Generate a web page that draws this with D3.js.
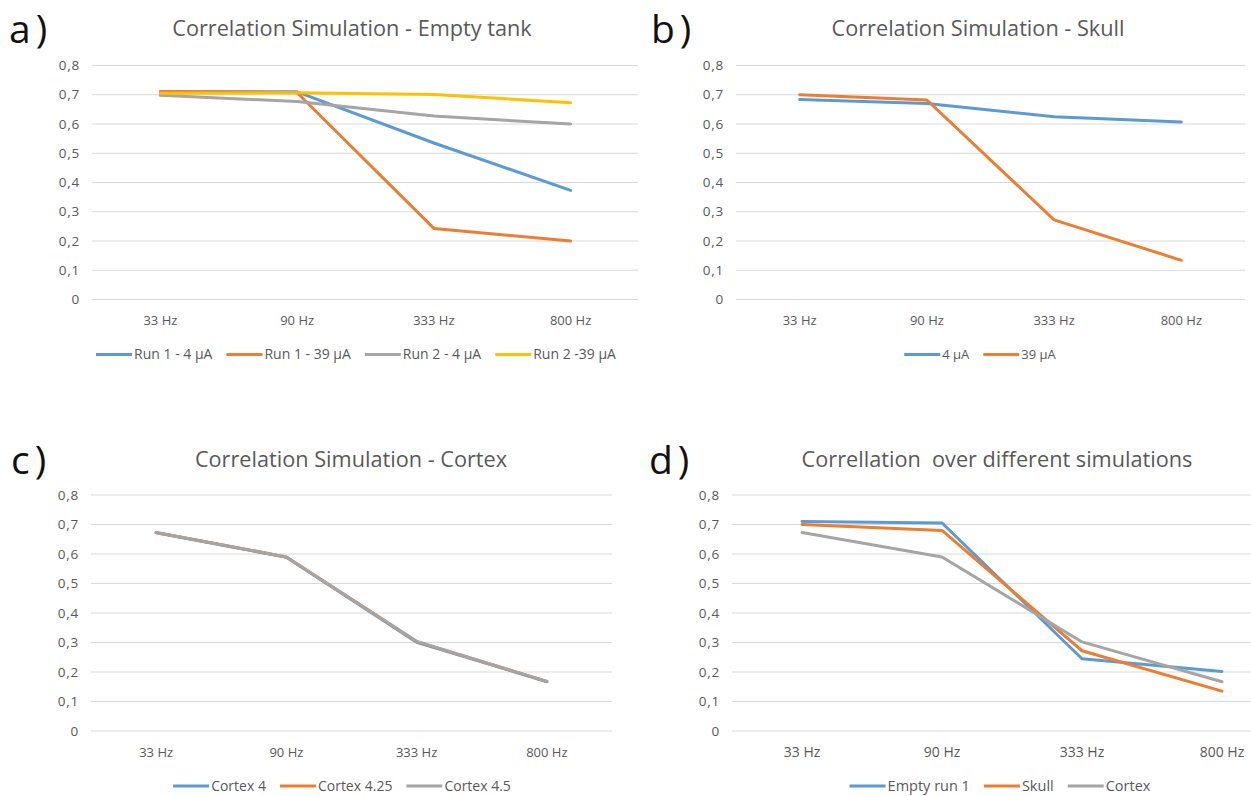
<!DOCTYPE html>
<html>
<head>
<meta charset="utf-8">
<script src="https://cdn.jsdelivr.net/npm/d3@7"></script>
<style>
  body { margin: 0; background: #fff; }
  text { font-family: "Open Sans", sans-serif; }
</style>
</head>
<body>
<div id="chart"></div>
<script>
// categories / ticks
var categories = ["33 Hz", "90 Hz", "333 Hz", "800 Hz"];
var yTicks = [0, 0.1, 0.2, 0.3, 0.4, 0.5, 0.6, 0.7, 0.8];
var yTickLabels = ["0", "0,1", "0,2", "0,3", "0,4", "0,5", "0,6", "0,7", "0,8"];

// a) empty tank
var run1_4uA  = [0.710, 0.710, 0.535, 0.373];
var run1_39uA = [0.711, 0.707, 0.243, 0.200];
var run2_4uA  = [0.698, 0.677, 0.627, 0.600];
var run2_39uA = [0.705, 0.707, 0.701, 0.673];

// b) skull
var skull_4uA  = [0.684, 0.670, 0.625, 0.607];
var skull_39uA = [0.700, 0.682, 0.272, 0.134];

// c) cortex
var cortex_4   = [0.672, 0.589, 0.301, 0.167];
var cortex_425 = [0.673, 0.590, 0.303, 0.168];
var cortex_45  = [0.673, 0.590, 0.304, 0.168];

// d) over simulations
var emptyRun1 = [0.710, 0.705, 0.245, 0.202];
var skullSim  = [0.700, 0.680, 0.272, 0.135];
var cortexSim = [0.673, 0.590, 0.302, 0.167];

var BLUE = "#5b9bd5", ORANGE = "#ed7d31", GRAY = "#a5a5a5", YELLOW = "#ffc000";

var svg = d3.select("#chart").append("svg")
    .attr("width", 1251)
    .attr("height", 796);

function panel(p) {
  var g = svg.append("g");

  var x = d3.scaleBand().domain(categories).range(p.xr).padding(0);
  var y = d3.scaleLinear().domain([0, 0.8]).range(p.yr);
  var cx = function(d){ return x(d) + x.bandwidth()/2; };

  /* panel letter */
  g.append("text")
    .attr("x", p.letter[0]).attr("y", p.letter[1])
    .style("font-size", "39px")
    .style("letter-spacing", "5px")
    .attr("fill", "#111")
    .text(p.name);

  /* title */
  g.append("text")
    .attr("x", p.title[0]).attr("y", p.title[1])
    .attr("text-anchor", "middle")
    .style("font-size", "21.7px")
    .style("white-space", "pre")
    .attr("fill", "#595959")
    .text(p.titleText);

  /* gridlines */
  g.selectAll(".grid")
    .data(yTicks)
    .enter().append("line")
    .attr("x1", p.xr[0]).attr("x2", p.gridEnd)
    .attr("y1", y).attr("y2", y)
    .style("stroke", "#d9d9d9")
    .style("stroke-width", 1);

  /* y labels */
  g.selectAll(".ylabel")
    .data(yTicks)
    .enter().append("text")
    .attr("x", p.xr[0] - 12)
    .attr("y", y)
    .attr("dy", "0.35em")
    .attr("text-anchor", "end")
    .style("font-size", "13.5px")
    .style("letter-spacing", "0.8px")
    .attr("fill", "#595959")
    .text(function(d, i){ return yTickLabels[i]; });

  /* x labels */
  g.selectAll(".xlabel")
    .data(categories)
    .enter().append("text")
    .attr("x", cx)
    .attr("y", p.yr[0] + 21)
    .attr("dy", "0.35em")
    .attr("text-anchor", "middle")
    .style("font-size", p.fs + "px")
    .attr("fill", "#595959")
    .text(function(d){ return d; });

  /* series */
  var line = d3.line()
    .x(function(d, i){ return cx(categories[i]); })
    .y(function(d){ return y(d); });

  p.series.forEach(function(s) {
    g.append("path")
      .datum(s.values)
      .attr("d", line)
      .style("fill", "none")
      .style("stroke", s.color)
      .style("stroke-width", 3)
      .style("stroke-linejoin", "round")
      .style("stroke-linecap", "round");
  });

  /* legend */
  var lg = g.append("g");
  var pos = 0;
  p.series.forEach(function(s) {
    lg.append("line")
      .attr("x1", pos).attr("x2", pos + 36)
      .attr("y1", 0).attr("y2", 0)
      .style("stroke", s.color)
      .style("stroke-width", 3);
    var t = lg.append("text")
      .attr("x", pos + 38).attr("y", 0)
      .attr("dy", "0.35em")
      .style("font-size", p.lfs + "px")
      .attr("fill", "#595959")
      .text(s.name);
    pos += 38 + t.node().getComputedTextLength() + 14;
  });
  pos -= 14;
  lg.attr("transform", "translate(" + (p.legendX - pos/2) + "," + (p.yr[0] + 55) + ")");
}

panel({
  name: "a)", letter: [9, 43], title: [352, 36], titleText: "Correlation Simulation - Empty tank",
  xr: [92, 639], gridEnd: 638, yr: [299.5, 65.5], fs: 13, lfs: 14, legendX: 356,
  series: [
    { name: "Run 1 - 4 µA", values: run1_4uA, color: BLUE },
    { name: "Run 1 - 39 µA", values: run1_39uA, color: ORANGE },
    { name: "Run 2 - 4 µA", values: run2_4uA, color: GRAY },
    { name: "Run 2 -39 µA", values: run2_39uA, color: YELLOW }
  ]
});

panel({
  name: "b)", letter: [651, 43], title: [978, 36], titleText: "Correlation Simulation - Skull",
  xr: [736, 1245], gridEnd: 1245, yr: [299.5, 65.5], fs: 13, lfs: 13, legendX: 980,
  series: [
    { name: "4 µA", values: skull_4uA, color: BLUE },
    { name: "39 µA", values: skull_39uA, color: ORANGE }
  ]
});

panel({
  name: "c)", letter: [11, 474], title: [351, 467], titleText: "Correlation Simulation - Cortex",
  xr: [91, 612], gridEnd: 612, yr: [731, 495], fs: 13, lfs: 14, legendX: 342,
  series: [
    { name: "Cortex 4", values: cortex_4, color: BLUE },
    { name: "Cortex 4.25", values: cortex_425, color: ORANGE },
    { name: "Cortex 4.5", values: cortex_45, color: GRAY }
  ]
});

panel({
  name: "d)", letter: [649, 474], title: [997, 467], titleText: "Correllation  over different simulations",
  xr: [732, 1292], gridEnd: 1251, yr: [731, 495], fs: 14, lfs: 14.5, legendX: 1000,
  series: [
    { name: "Empty run 1", values: emptyRun1, color: BLUE },
    { name: "Skull", values: skullSim, color: ORANGE },
    { name: "Cortex", values: cortexSim, color: GRAY }
  ]
});
</script>
</body>
</html>
